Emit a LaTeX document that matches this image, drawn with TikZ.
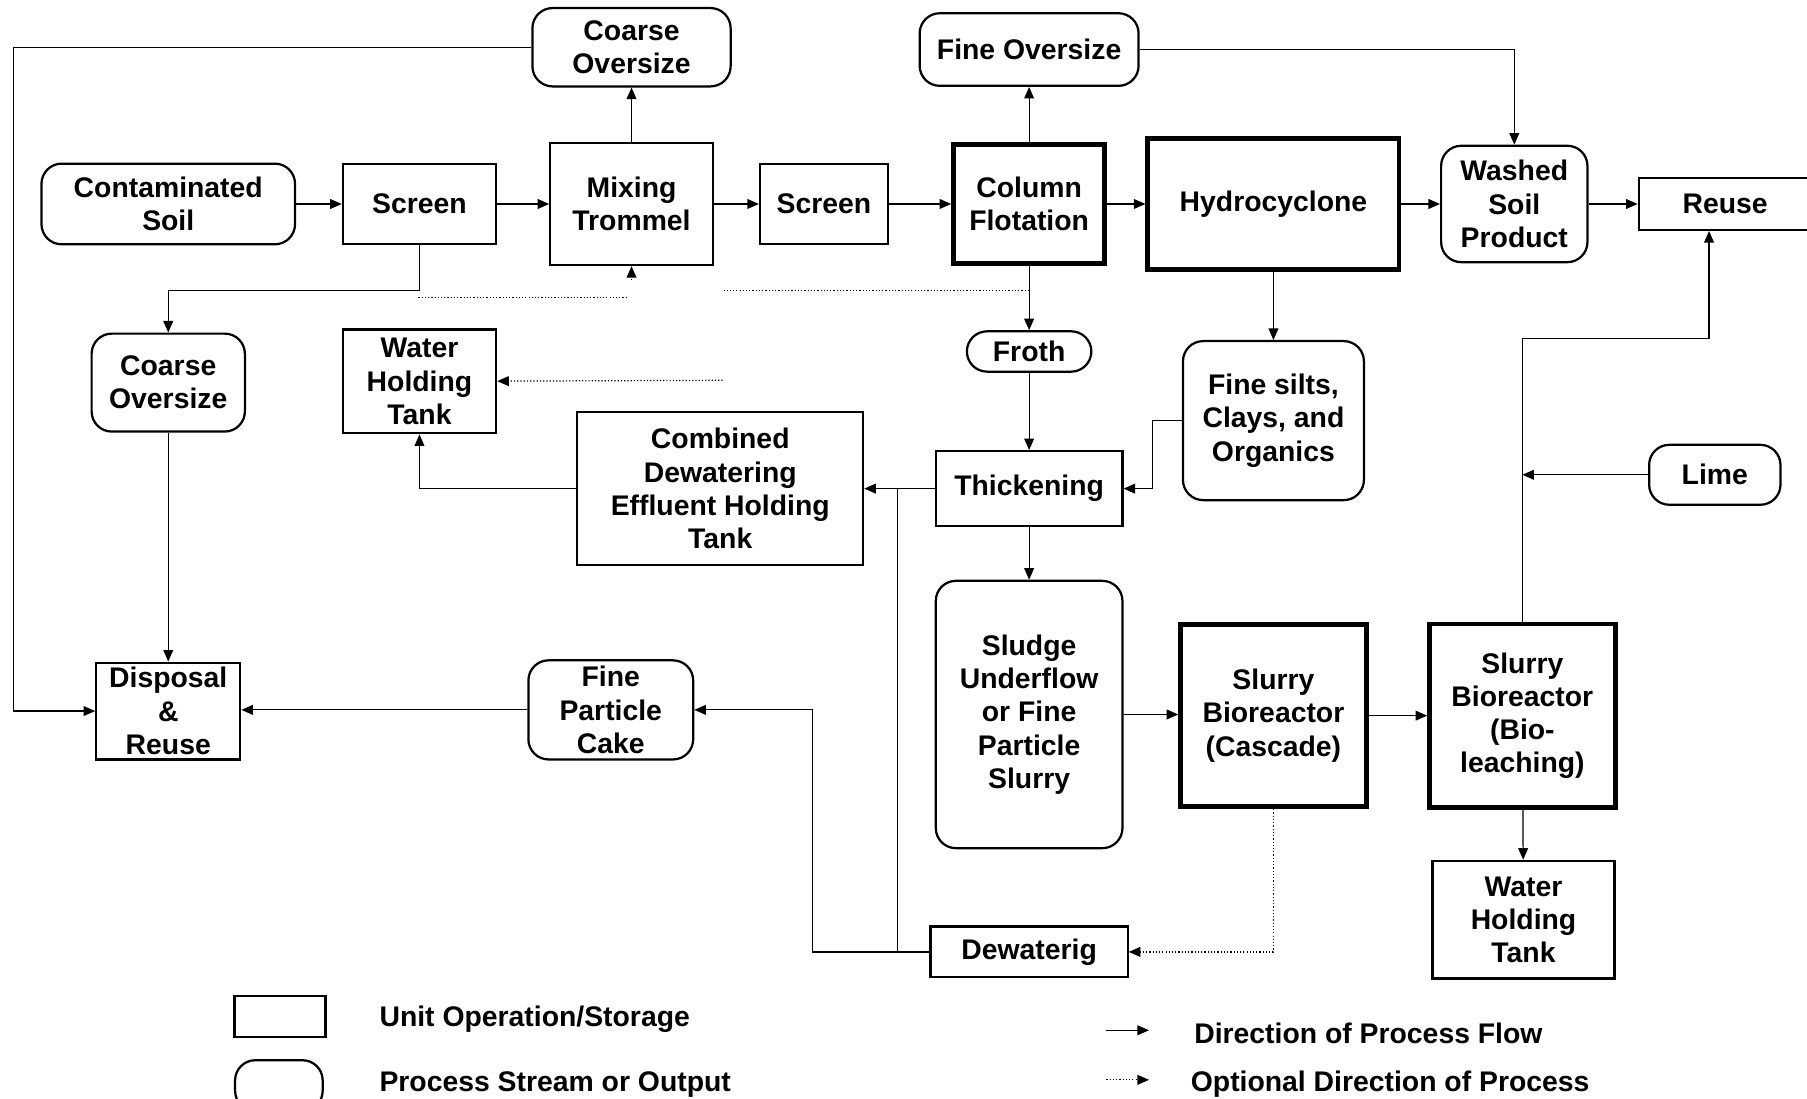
\documentclass[tikz,border=0pt]{standalone}
\usepackage{fontspec}
\setmainfont{Liberation Sans}
\usetikzlibrary{arrows.meta}
\newlength\px
\setlength\px{0.2mm}

\begin{document}
\begin{tikzpicture}
        [x=\px, y=-\px,
         every node/.style={font=\fontsize{14}{16.4}\selectfont\bfseries, align=center, inner sep=0},
         unit/.style 2 args={draw, line width=1.1pt, minimum width=#1\px, minimum height=#2\px},
         major/.style 2 args={draw, line width=2.4pt, minimum width=#1\px, minimum height=#2\px},
         stream/.style 2 args={draw, line width=1.1pt, rounded corners=3.5mm, minimum width=#1\px, minimum height=#2\px},
         flow/.style={line width=0.6pt, -{Triangle[length=2mm,width=1.7mm]}},
         optional/.style={line width=0.6pt, densely dotted, -{Triangle[length=2mm,width=1.7mm]}}]

        \useasboundingbox (0,0) rectangle (1568,953);

        \node[stream={172}{68}] (coarseTop) at (548,41) {Coarse\\Oversize};
        \node[stream={190}{63}] (fineOver) at (893,43) {Fine Oversize};
        \node[stream={220}{70}] (soil) at (146,177) {Contaminated\\Soil};
        \node[unit={133}{70}] (screenA) at (364,177) {Screen};
        \node[unit={141}{106}] (trommel) at (548,177) {Mixing\\Trommel};
        \node[unit={111}{70}] (screenB) at (715,177) {Screen};
        \node[major={131}{103}] (column) at (893,177) {Column\\Flotation};
        \node[major={218}{113}] (hydro) at (1105,177) {Hydrocyclone};
        \node[stream={127}{101}] (washed) at (1314,177) {Washed\\Soil\\Product};
        \node[unit={150}{45}] (reuse) at (1497,177) {Reuse};
        \node[stream={108}{35}] (froth) at (893,305) {Froth};
        \node[stream={157}{138}] (silts) at (1105,365) {Fine silts,\\Clays, and\\Organics};
        \node[unit={133}{90}] (tankA) at (364,331) {Water\\Holding\\Tank};
        \node[stream={133}{85}] (coarseLeft) at (146,332) {Coarse\\Oversize};
        \node[unit={248}{133}] (combined) at (625,424) {Combined\\Dewatering\\Effluent Holding\\Tank};
        \node[unit={162}{65}] (thick) at (893,424) {Thickening};
        \node[stream={114}{52}] (lime) at (1488,412) {Lime};
        \node[stream={162}{232}] (sludge) at (893,620) {Sludge\\Underflow\\or Fine\\Particle\\Slurry};
        \node[major={161}{158}] (cascade) at (1105,621) {Slurry\\Bioreactor\\(Cascade)};
        \node[major={161}{159}] (bioleach) at (1321,621) {Slurry\\Bioreactor\\(Bio-\\leaching)};
        \node[unit={158}{102}] (tankB) at (1322,798) {Water\\Holding\\Tank};
        \node[unit={171}{44}] (dewater) at (893,826) {Dewaterig};
        \node[stream={143}{86}] (cake) at (530,616) {Fine\\Particle\\Cake};
        \node[unit={125}{84}] (disposal) at (146,617) {Disposal\\\&\\Reuse};

        \coordinate (reuseIn) at (1483,294);
        \coordinate (joinD) at (779,826);
        \coordinate (joinC) at (779,424);
        \coordinate (optA) at (893,252);
        \coordinate (optB) at (628,252);
        \coordinate (optC) at (544,258);
        \coordinate (optD) at (363,258);
        \coordinate (optE) at (627,330);

        \draw[flow] (soil) -- (screenA);
        \draw[flow] (screenA) -- (trommel);
        \draw[flow] (trommel) -- (screenB);
        \draw[flow] (screenB) -- (column);
        \draw[flow] (column) -- (hydro);
        \draw[flow] (hydro) -- (washed);
        \draw[flow] (washed) -- (reuse);
        \draw[flow] (trommel) -- (coarseTop);
        \draw[flow] (column) -- (fineOver);
        \draw[flow] (fineOver) -| (washed);
        \draw[flow] (coarseTop) -- (12,41) |- (disposal);
        \draw[flow] (screenA) -- (364,252) -| (coarseLeft);
        \draw[flow] (coarseLeft) -- (disposal);
        \draw[flow] (column) -- (froth);
        \draw[flow] (froth) -- (thick);
        \draw[flow] (hydro) -- (silts);
        \draw[flow] (silts) -- (1000,365) |- (thick);
        \draw[flow] (thick) -- (combined);
        \draw[flow] (combined) -| (tankA);
        \draw[flow] (thick) -- (sludge);
        \draw[flow] (sludge.east) -- (sludge.east -| cascade.west);
        \draw[flow] (cascade) -- (bioleach);
        \draw[flow] (bioleach) -- (tankB);
        \draw[flow] (bioleach) |- (reuseIn) -- (reuseIn |- reuse.south);
        \draw[flow] (lime) -- (lime -| bioleach);
        \draw[flow] (dewater) -- (705,826) |- (cake);
        \draw[line width=0.6pt] (joinD) -- (joinC);
        \draw[flow] (cake.west) -- (cake.west -| disposal.east);

        \draw[optional] (cascade) |- (dewater);
        \draw[optional, -] (optA) -- (optB);
        \draw[optional, -] (optC) -- (optD);
        \draw[optional] ([yshift=-12\px]trommel.south) -- (trommel.south);
        \draw[optional] (optE) -- (tankA);

        \node[unit={79}{36}] (legUnit) at (243,882) {};
        \node[stream={76}{44}] (legStream) at (242,942) {};
        \node[anchor=west] (legUnitText) at (329,884) {Unit Operation/Storage};
        \node[anchor=west] (legStreamText) at (329,941) {Process Stream or Output};
        \coordinate (legFlowA) at (960,894);
        \coordinate (legFlowB) at (997,894);
        \coordinate (legOptA) at (960,937);
        \coordinate (legOptB) at (997,937);
        \draw[flow] (legFlowA) -- (legFlowB);
        \draw[optional] (legOptA) -- (legOptB);
        \node[anchor=west] (legFlowText) at (1036,897) {Direction of Process Flow};
        \node[anchor=west] (legOptText) at (1033,941) {Optional Direction of Process};

      \end{tikzpicture}
\end{document}
